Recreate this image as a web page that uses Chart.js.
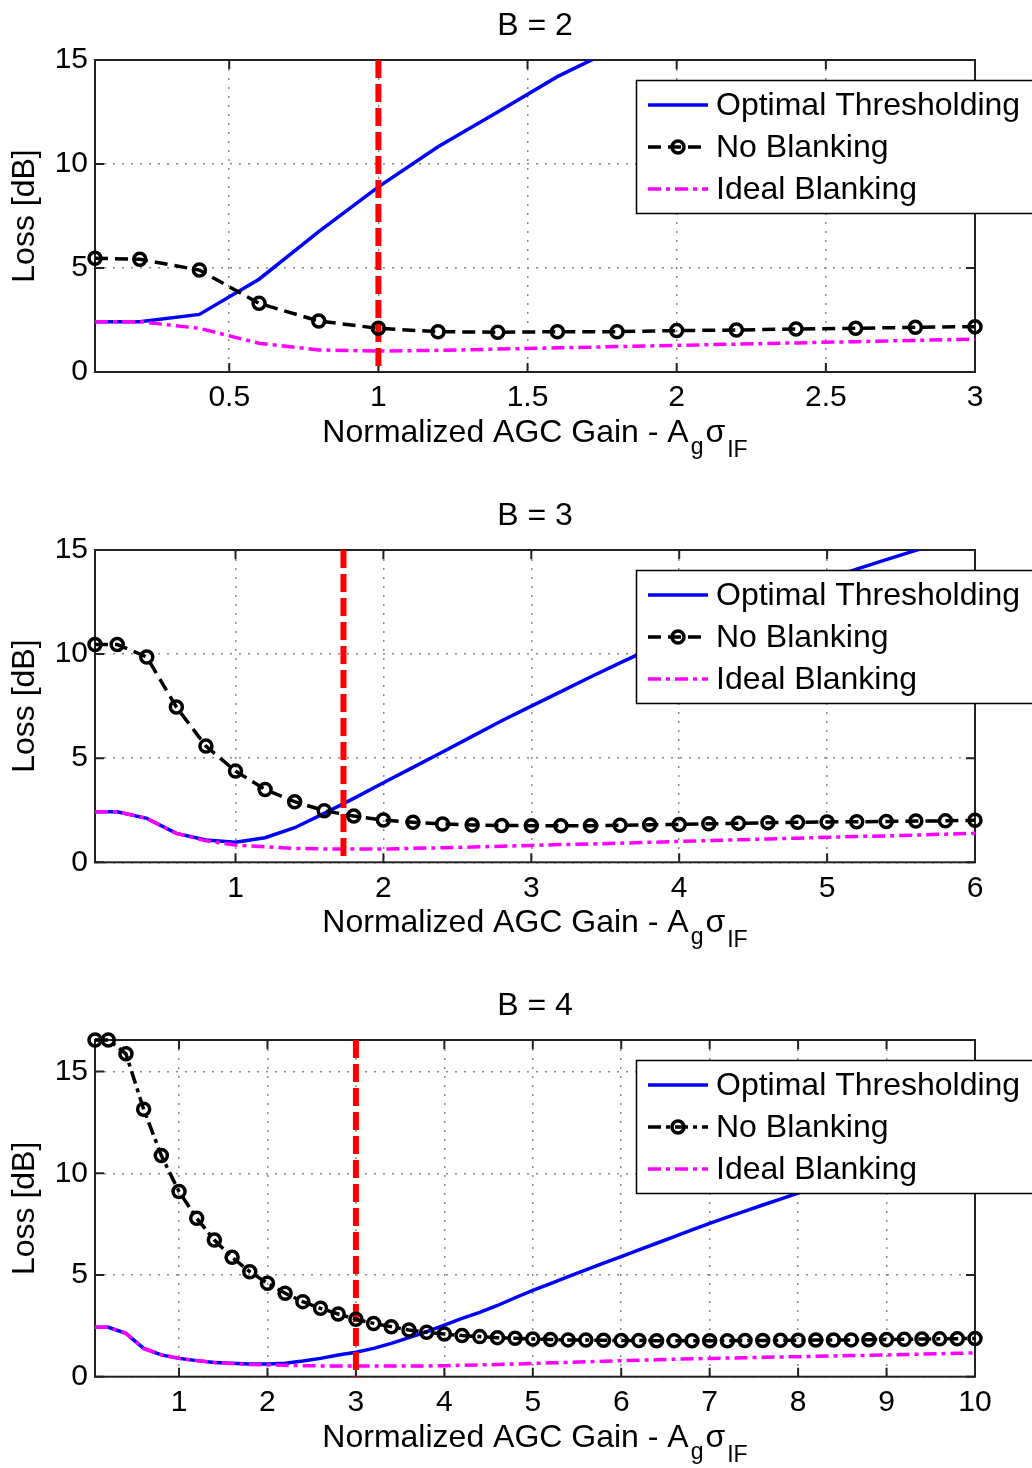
<!DOCTYPE html>
<html>
<head>
<meta charset="utf-8">
<script src="https://cdn.jsdelivr.net/npm/chart.js@4.4.1/dist/chart.umd.min.js"></script>
<style>
html,body{margin:0;padding:0;background:#fff;}
#wrap{position:relative;width:1032px;height:1468px;overflow:hidden;background:#fff;}
canvas{position:absolute;left:0;}
</style>
</head>
<body>
<div id="wrap">
<canvas id="c1" width="1032" height="490" style="top:0px"></canvas>
<canvas id="c2" width="1032" height="490" style="top:490px"></canvas>
<canvas id="c3" width="1032" height="488" style="top:980px"></canvas>
</div>
<script>
// ---------- data ----------
const seriesLabels = ['Optimal Thresholding', 'No Blanking', 'Ideal Blanking'];
const yAxisTitle = 'Loss [dB]';
const xAxisTitleMain = 'Normalized AGC Gain - A';
const xAxisSub1 = 'g';
const xAxisSym = '\u03C3';
const xAxisSub2 = 'IF';
const yTicks = [0, 5, 10, 15];

// B = 2
const titleB2 = 'B = 2';
const xB2 = [0.05, 0.2, 0.4, 0.6, 0.8, 1.0, 1.2, 1.4, 1.6, 1.8, 2.0, 2.2, 2.4, 2.6, 2.8, 3.0];
const optB2 = [2.42, 2.42, 2.77, 4.46, 6.75, 8.9, 10.83, 12.5, 14.2, 15.6, 16.9, 18.1, 19.2, 20.3, 21.3, 22.3];
const noBlankB2 = [5.47, 5.42, 4.9, 3.3, 2.45, 2.1, 1.94, 1.91, 1.94, 1.94, 1.99, 2.02, 2.07, 2.1, 2.15, 2.18];
const idealB2 = [2.42, 2.42, 2.1, 1.38, 1.06, 1.01, 1.04, 1.1, 1.16, 1.22, 1.28, 1.34, 1.4, 1.46, 1.52, 1.58];
const xTicksB2 = [0.5, 1, 1.5, 2, 2.5, 3];
const xRangeB2 = [0.05, 3];
const yRangeB2 = [0, 15];
const markB2 = 1;

// B = 3
const titleB3 = 'B = 3';
const xB3 = [0.05, 0.2, 0.4, 0.6, 0.8, 1.0, 1.2, 1.4, 1.6, 1.8, 2.0, 2.2, 2.4, 2.6, 2.8, 3.0,
             3.2, 3.4, 3.6, 3.8, 4.0, 4.2, 4.4, 4.6, 4.8, 5.0, 5.2, 5.4, 5.6, 5.8, 6.0];
const optB3 = [2.43, 2.43, 2.11, 1.39, 1.07, 0.96, 1.18, 1.66, 2.35, 3.07, 3.82, 4.56, 5.3, 6.05, 6.8, 7.5,
               8.2, 8.9, 9.58, 10.24, 10.86, 11.45, 12.02, 12.57, 13.1, 13.6, 14.08, 14.54, 14.98, 15.42, 15.85];
const noBlankB3 = [10.46, 10.46, 9.86, 7.46, 5.58, 4.38, 3.5, 2.91, 2.48, 2.22, 2.03, 1.92, 1.84, 1.79, 1.77, 1.76,
                   1.76, 1.76, 1.78, 1.8, 1.82, 1.85, 1.87, 1.9, 1.92, 1.94, 1.95, 1.96, 1.98, 1.99, 2.02];
const idealB3 = [2.43, 2.43, 2.11, 1.39, 1.03, 0.83, 0.75, 0.67, 0.64, 0.64, 0.64, 0.67, 0.7, 0.73, 0.77, 0.81,
                 0.85, 0.88, 0.92, 0.96, 1.0, 1.04, 1.08, 1.12, 1.16, 1.2, 1.24, 1.27, 1.31, 1.35, 1.39];
const xTicksB3 = [1, 2, 3, 4, 5, 6];
const xRangeB3 = [0.05, 6];
const yRangeB3 = [0, 15];
const markB3 = 1.73;

// B = 4
const titleB4 = 'B = 4';
const xB4 = [0.05, 0.2, 0.4, 0.6, 0.8, 1.0, 1.2, 1.4, 1.6, 1.8, 2.0, 2.2, 2.4, 2.6, 2.8, 3.0,
             3.2, 3.4, 3.6, 3.8, 4.0, 4.2, 4.4, 4.6, 4.8, 5.0, 5.2, 5.4, 5.6, 5.8, 6.0,
             6.2, 6.4, 6.6, 6.8, 7.0, 7.2, 7.4, 7.6, 7.8, 8.0, 8.2, 8.4, 8.6, 8.8, 9.0,
             9.2, 9.4, 9.6, 9.8, 10.0];
const optB4 = [2.43, 2.43, 2.13, 1.39, 1.07, 0.9, 0.79, 0.7, 0.66, 0.62, 0.62, 0.66, 0.77, 0.9, 1.07, 1.2,
               1.39, 1.64, 1.92, 2.21, 2.54, 2.87, 3.16, 3.5, 3.88, 4.24, 4.58, 4.92, 5.25, 5.58, 5.9,
               6.23, 6.56, 6.89, 7.22, 7.54, 7.84, 8.14, 8.44, 8.73, 9.02, 9.31, 9.6, 9.88, 10.16, 10.44,
               10.71, 10.98, 11.25, 11.52, 11.78];
const noBlankB4 = [16.55, 16.55, 15.87, 13.15, 10.87, 9.1, 7.79, 6.72, 5.87, 5.16, 4.59, 4.1, 3.69, 3.36, 3.08, 2.82,
                   2.62, 2.46, 2.3, 2.18, 2.1, 2.02, 1.97, 1.92, 1.89, 1.85, 1.83, 1.81, 1.8, 1.79, 1.78,
                   1.78, 1.77, 1.77, 1.77, 1.77, 1.77, 1.78, 1.78, 1.79, 1.79, 1.8, 1.8, 1.81, 1.82, 1.83,
                   1.84, 1.85, 1.86, 1.87, 1.88];
const idealB4 = [2.43, 2.43, 2.13, 1.39, 1.07, 0.9, 0.79, 0.7, 0.65, 0.6, 0.58, 0.56, 0.54, 0.53, 0.52, 0.52,
                 0.52, 0.52, 0.53, 0.53, 0.54, 0.56, 0.58, 0.6, 0.62, 0.65, 0.68, 0.7, 0.73, 0.76, 0.79,
                 0.81, 0.83, 0.86, 0.88, 0.9, 0.92, 0.93, 0.95, 0.97, 0.98, 1.0, 1.02, 1.04, 1.05, 1.07,
                 1.09, 1.11, 1.13, 1.15, 1.17];
const xTicksB4 = [1, 2, 3, 4, 5, 6, 7, 8, 9, 10];
const xRangeB4 = [0.05, 10];
const yRangeB4 = [0, 16.55];
const markB4 = 3;

// ---------- styling ----------
const FONT = "'Liberation Sans', Arial, Helvetica, sans-serif";
Chart.defaults.font.family = FONT;
Chart.defaults.color = '#000';

function zip(xs, ys) { return xs.map((x, i) => ({x: x, y: ys[i]})); }

const decorPlugin = {
  id: 'decor',
  beforeDatasetsDraw(chart, args, opts) {
    const ctx = chart.ctx, a = chart.chartArea;
    ctx.save();
    ctx.strokeStyle = '#222';
    ctx.lineWidth = 2;
    const tl = 9;
    ctx.beginPath();
    chart.scales.x.ticks.forEach(t => {
      const px = chart.scales.x.getPixelForValue(t.value);
      ctx.moveTo(px, a.bottom); ctx.lineTo(px, a.bottom - tl);
      ctx.moveTo(px, a.top); ctx.lineTo(px, a.top + tl);
    });
    chart.scales.y.ticks.forEach(t => {
      const py = chart.scales.y.getPixelForValue(t.value);
      ctx.moveTo(a.left, py); ctx.lineTo(a.left + tl, py);
      ctx.moveTo(a.right, py); ctx.lineTo(a.right - tl, py);
    });
    ctx.stroke();
    ctx.strokeRect(a.left, a.top, a.right - a.left, a.bottom - a.top);
    ctx.restore();
  },
  afterDraw(chart, args, opts) {
    const ctx = chart.ctx, a = chart.chartArea;
    const cx = (a.left + a.right) / 2;
    ctx.save();
    // title
    ctx.fillStyle = '#000';
    ctx.font = '32px ' + FONT;
    ctx.textAlign = 'center';
    ctx.textBaseline = 'alphabetic';
    ctx.fillText(opts.title, cx, a.top - 25);
    // x axis title with subscripts
    const mainF = '32px ' + FONT, subF = '23px ' + FONT;
    ctx.font = mainF; const w1 = ctx.measureText(xAxisTitleMain).width; const w3 = ctx.measureText(xAxisSym).width;
    ctx.font = subF; const w2 = ctx.measureText(xAxisSub1).width; const w4 = ctx.measureText(xAxisSub2).width;
    const g1 = 2, g2 = 2, g3 = 2;
    const total = w1 + g1 + w2 + g2 + w3 + g3 + w4;
    let x = cx - total / 2;
    const by = a.bottom + 70;
    ctx.textAlign = 'left';
    ctx.font = mainF; ctx.fillText(xAxisTitleMain, x, by); x += w1 + g1;
    ctx.font = subF; ctx.fillText(xAxisSub1, x, by + 12); x += w2 + g2;
    ctx.font = mainF; ctx.fillText(xAxisSym, x, by); x += w3 + g3;
    ctx.font = subF; ctx.fillText(xAxisSub2, x, by + 15);
    // legend
    const lx = 636.5, ly = a.top + 20.5, lw = 420, lh = 133;
    ctx.fillStyle = '#fff';
    ctx.fillRect(lx, ly, lw, lh);
    ctx.strokeStyle = '#000'; ctx.lineWidth = 1.5;
    ctx.strokeRect(lx, ly, lw, lh);
    const ds = chart.data.datasets;
    for (let i = 0; i < 3; i++) {
      const d = ds[i];
      const ry = a.top + 45 + i * 42;
      ctx.save();
      ctx.strokeStyle = d.borderColor; ctx.lineWidth = d.borderWidth;
      ctx.setLineDash(d.borderDash || []);
      ctx.beginPath(); ctx.moveTo(648, ry); ctx.lineTo(708, ry); ctx.stroke();
      if (d.pointRadius > 0) {
        ctx.setLineDash([]);
        ctx.lineWidth = d.pointBorderWidth;
        ctx.beginPath(); ctx.arc(678, ry, d.pointRadius, 0, Math.PI * 2); ctx.stroke();
      }
      ctx.restore();
      ctx.fillStyle = '#000';
      ctx.font = '32px ' + FONT;
      ctx.textBaseline = 'middle';
      ctx.fillText(d.label, 716, ry + 1);
    }
    ctx.restore();
  }
};

function makeChart(id, p) {
  const canvas = document.getElementById(id);
  const H = canvas.height;
  new Chart(canvas, {
    type: 'line',
    data: {
      datasets: [
        {label: seriesLabels[0], data: zip(p.x, p.opt), borderColor: '#0000ff', borderWidth: 3.5,
         pointRadius: 0, order: 4, clip: 0, tension: 0},
        {label: seriesLabels[1], data: zip(p.x, p.nb), borderColor: '#000000', borderWidth: 3.5,
         borderDash: p.nbDash, pointRadius: 6, pointBorderWidth: 3.5, pointBorderColor: '#000',
         pointBackgroundColor: 'rgba(0,0,0,0)', order: 1, tension: 0, clip: false},
        {label: seriesLabels[2], data: zip(p.x, p.ideal), borderColor: '#ff00ff', borderWidth: 3.5,
         borderDash: [13, 5, 4, 5], pointRadius: 0, order: 3, clip: 0, tension: 0},
        {label: 'limit', data: [{x: p.mark, y: p.yRange[1]}, {x: p.mark, y: p.yRange[0]}],
         borderColor: '#ff0000', borderWidth: 6, borderDash: [18, 6], pointRadius: 0, order: 2, clip: 0}
      ]
    },
    options: {
      responsive: false,
      animation: false,
      events: [],
      layout: {padding: {top: 60, left: 0, right: 57, bottom: 0}},
      plugins: {legend: {display: false}, tooltip: {enabled: false}, title: {display: false},
                decor: {title: p.title}},
      scales: {
        x: {
          type: 'linear', min: p.xRange[0], max: p.xRange[1],
          afterBuildTicks: s => { s.ticks = p.xTicks.map(v => ({value: v})); },
          afterFit: s => { s.height = H - p.bottom; },
          grid: {color: '#8a8a8a', lineWidth: 1.5, drawTicks: false},
          border: {display: false, dash: [2, 7]},
          ticks: {font: {size: 30}, color: '#000', padding: 8, maxRotation: 0, autoSkip: false,
                  callback: v => String(v)}
        },
        y: {
          type: 'linear', min: p.yRange[0], max: p.yRange[1],
          afterBuildTicks: s => { s.ticks = yTicks.map(v => ({value: v})); },
          afterFit: s => { s.width = 95; },
          grid: {color: '#8a8a8a', lineWidth: 1.5, drawTicks: false},
          border: {display: false, dash: [2, 7]},
          ticks: {font: {size: 30}, color: '#000', padding: 7, callback: v => String(v)},
          title: {display: true, text: yAxisTitle, font: {size: 32}, color: '#000', padding: {top: 6, bottom: 0}}
        }
      }
    },
    plugins: [decorPlugin]
  });
}

makeChart('c1', {title: titleB2, x: xB2, opt: optB2, nb: noBlankB2, ideal: idealB2, xTicks: xTicksB2,
                 xRange: xRangeB2, yRange: yRangeB2, mark: markB2, nbDash: [13, 7], bottom: 372});
makeChart('c2', {title: titleB3, x: xB3, opt: optB3, nb: noBlankB3, ideal: idealB3, xTicks: xTicksB3,
                 xRange: xRangeB3, yRange: yRangeB3, mark: markB3, nbDash: [13, 7], bottom: 372.3});
makeChart('c3', {title: titleB4, x: xB4, opt: optB4, nb: noBlankB4, ideal: idealB4, xTicks: xTicksB4,
                 xRange: xRangeB4, yRange: yRangeB4, mark: markB4, nbDash: [13, 5, 4, 5], bottom: 396.7});
</script>
</body>
</html>
